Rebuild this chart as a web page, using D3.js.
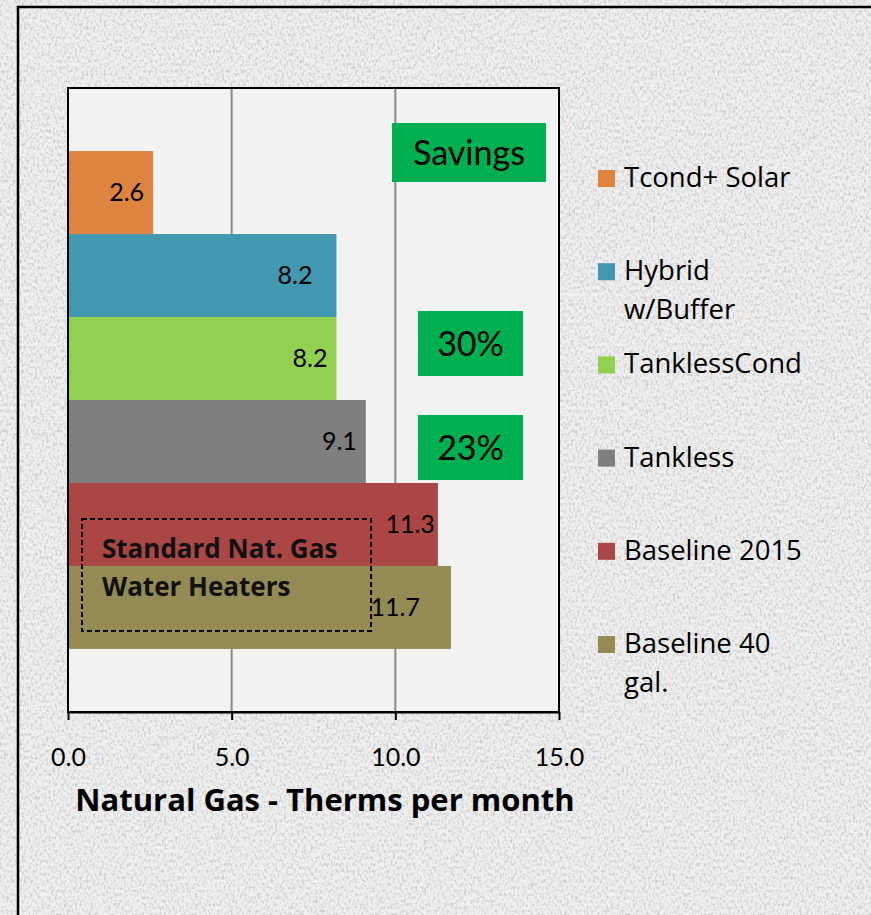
<!DOCTYPE html>
<html>
<head>
<meta charset="utf-8">
<script src="https://cdn.jsdelivr.net/npm/d3@7"></script>
<style>
  html, body { margin: 0; padding: 0; background: #ececec; }
  svg { display: block; font-family: Lato, "Open Sans", sans-serif; }
</style>
</head>
<body>
<div id="chart"></div>
<script>
// series, top to bottom as drawn
const series = ["Tcond+ Solar", "Hybrid w/Buffer", "TanklessCond", "Tankless", "Baseline 2015", "Baseline 40 gal."];
const therms = [2.6, 8.2, 8.2, 9.1, 11.3, 11.7];
const legendLines = [["Tcond+ Solar"], ["Hybrid", "w/Buffer"], ["TanklessCond"], ["Tankless"], ["Baseline 2015"], ["Baseline 40", "gal."]];
const xTicks = [0, 5, 10, 15];
const colors = ["#DD843F", "#4298B0", "#92D050", "#7F7F7F", "#AA4644", "#948A54"];
// hand nudges of the data labels (px), as moved in the original
const labelNudge = [0, -15, 0, 0, 6, -22];

(function gas_chart() {
  const width = 871,
    height = 915,
    plot = { top: 88, right: 559, bottom: 712, left: 68 };

  const svg = d3.select("#chart")
    .append("svg")
    .attr("width", width)
    .attr("height", height)
    .attr("viewBox", [0, 0, width, height]);

  // granite-ish background
  const defs = svg.append("defs");
  const f = defs.append("filter").attr("id", "granite")
    .attr("x", 0).attr("y", 0).attr("width", "100%").attr("height", "100%");
  f.append("feTurbulence")
    .attr("type", "fractalNoise")
    .attr("baseFrequency", "0.45 0.3")
    .attr("numOctaves", 3)
    .attr("seed", 7);
  f.append("feColorMatrix")
    .attr("type", "matrix")
    .attr("values", "0 0 0 0 0.62  0 0 0 0 0.62  0 0 0 0 0.62  3.2 0 0 0 -1.45");

  svg.append("rect").attr("width", width).attr("height", height).attr("fill", "#efefef");
  svg.append("rect").attr("width", width).attr("height", height).attr("filter", "url(#granite)");

  // outer frame (runs off right and bottom)
  svg.append("path")
    .attr("d", `M18,${height + 5}V7H${width + 5}`)
    .attr("fill", "none")
    .attr("stroke", "#000")
    .attr("stroke-width", 2.5);

  const x = d3.scaleLinear([0, 15], [plot.left, plot.right]);
  const y = d3.scaleBand(series, [plot.top, plot.bottom]).paddingInner(0).paddingOuter(0.76);

  // plot area
  svg.append("rect")
    .attr("x", plot.left).attr("y", plot.top)
    .attr("width", plot.right - plot.left)
    .attr("height", plot.bottom - plot.top)
    .attr("fill", "#f2f2f2");

  // gridlines
  svg.append("g")
    .selectAll("line")
    .data(xTicks.slice(1, -1))
    .join("line")
    .attr("x1", d => x(d)).attr("x2", d => x(d))
    .attr("y1", plot.top).attr("y2", plot.bottom)
    .attr("stroke", "#8a8a8a")
    .attr("stroke-width", 2);

  // bars
  svg.append("g")
    .selectAll("rect")
    .data(therms)
    .join("rect")
    .attr("x", x(0))
    .attr("y", (d, i) => y(series[i]))
    .attr("width", d => x(d) - x(0))
    .attr("height", y.bandwidth())
    .attr("fill", (d, i) => colors[i]);

  // frame of plot
  svg.append("rect")
    .attr("x", plot.left).attr("y", plot.top)
    .attr("width", plot.right - plot.left)
    .attr("height", plot.bottom - plot.top)
    .attr("fill", "none")
    .attr("stroke", "#000")
    .attr("stroke-width", 2);

  // x axis
  const xAxis = svg.append("g")
    .attr("transform", `translate(0,${plot.bottom})`)
    .call(d3.axisBottom(x).tickValues(xTicks).tickSize(8).tickSizeOuter(0).tickPadding(28).tickFormat(d3.format(".1f")));
  xAxis.select(".domain").attr("stroke", "#000").attr("stroke-width", 2);
  xAxis.selectAll(".tick line").attr("stroke", "#000").attr("stroke-width", 2);
  xAxis.selectAll(".tick text")
    .attr("font-family", "Lato, sans-serif")
    .attr("font-size", 25)
    .attr("fill", "#000");

  svg.append("text")
    .attr("x", 325)
    .attr("y", 811)
    .attr("text-anchor", "middle")
    .attr("font-family", "'Open Sans', sans-serif")
    .attr("font-weight", "bold")
    .attr("font-size", 31)
    .text("Natural Gas - Therms per month");

  // data labels
  svg.append("g")
    .selectAll("text")
    .data(therms)
    .join("text")
    .attr("x", (d, i) => x(d) - 9 + labelNudge[i])
    .attr("y", (d, i) => y(series[i]) + y.bandwidth() / 2)
    .attr("dy", "0.35em")
    .attr("text-anchor", "end")
    .attr("font-size", 25)
    .text(d => d3.format(".1f")(d));

  // dashed callout
  svg.append("rect")
    .attr("x", 82).attr("y", 519)
    .attr("width", 289).attr("height", 112)
    .attr("fill", "none")
    .attr("stroke", "#000")
    .attr("stroke-width", 2)
    .attr("stroke-dasharray", "5,3");

  svg.append("text")
    .attr("x", 102)
    .attr("font-family", "'Open Sans', sans-serif")
    .attr("font-weight", "bold")
    .attr("font-size", 26)
    .attr("fill", "#111")
    .selectAll("tspan")
    .data(["Standard Nat. Gas", "Water Heaters"])
    .join("tspan")
    .attr("x", 102)
    .attr("y", (d, i) => 558 + i * 38)
    .text(d => d);

  // savings boxes
  const boxes = [
    { label: "Savings", x: 392, y: 123, w: 154, h: 59 },
    { label: "30%", x: 418, y: 311, w: 105, h: 65 },
    { label: "23%", x: 418, y: 415, w: 105, h: 65 }
  ];
  const bg = svg.append("g")
    .selectAll("g")
    .data(boxes)
    .join("g");
  bg.append("rect")
    .attr("x", d => d.x).attr("y", d => d.y)
    .attr("width", d => d.w).attr("height", d => d.h)
    .attr("fill", "#00B050");
  bg.append("text")
    .attr("x", d => d.x + d.w / 2)
    .attr("y", d => d.y + d.h / 2)
    .attr("dy", "0.36em")
    .attr("text-anchor", "middle")
    .attr("font-size", 34)
    .text(d => d.label);

  // legend
  const legend = svg.append("g")
    .selectAll("g")
    .data(series)
    .join("g")
    .attr("transform", (d, i) => `translate(598,${187 + i * 93.2})`);

  legend.append("rect")
    .attr("x", 0).attr("y", -17)
    .attr("width", 17).attr("height", 17)
    .attr("fill", (d, i) => colors[i]);

  legend.append("text")
    .attr("font-family", "'Open Sans', sans-serif")
    .attr("font-size", 27.5)
    .selectAll("tspan")
    .data((d, i) => legendLines[i])
    .join("tspan")
    .attr("x", 26)
    .attr("y", (d, j) => j * 39)
    .text(d => d);
})();
</script>
</body>
</html>
